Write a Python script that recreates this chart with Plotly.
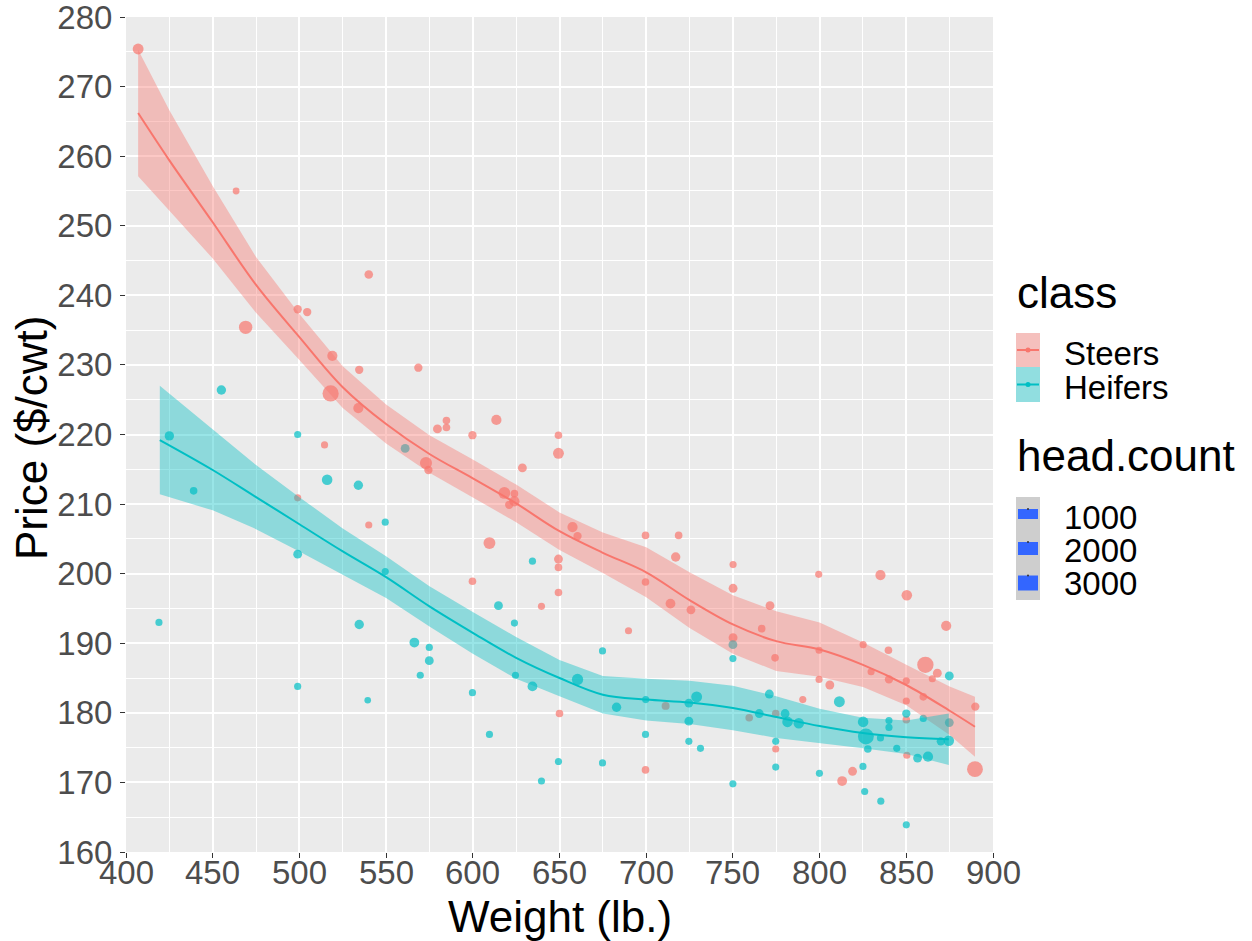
import plotly.graph_objects as go

# ---------------- data ----------------
steer_weight = [407, 463.5, 469, 540, 499, 504.5, 519, 534.5, 568.6, 518, 534, 514.5, 499, 540,
                584.8, 579.6, 584.8, 613.6, 599.8, 649.4, 649.4, 573, 574.4, 628.6, 618.2, 624, 624, 621,
                657.5, 660.4, 699.6, 718.7, 717, 609.6, 649.4, 649.4, 599.8, 699.6, 649.4, 639.6, 714, 689.8,
                650, 699.6, 711.2, 750.1, 750.1, 799.5, 835.1, 850.3, 873, 725.8, 771.4, 766.6, 750.1, 774.3,
                825.1, 839.7, 799.7, 861, 867.9, 829.7, 840, 850, 865, 799.7, 805.9, 790.3, 850, 859.8, 889.8,
                759.4, 774.7, 850, 850.3, 774.7, 819, 813, 889.6]
steer_price = [275.4, 255, 235.4, 243, 238, 237.6, 231.3, 229.3, 229.6, 225.9, 223.8, 218.5, 210.9, 207,
               222, 220.8, 221, 222.1, 219.9, 219.9, 217.3, 215.9, 214.9, 215.2, 211.6, 211.5, 210.4, 209.9,
               206.7, 205.4, 205.5, 205.5, 202.4, 204.4, 202.1, 200.9, 198.9, 198.8, 197.3, 195.3, 195.7, 191.8,
               179.9, 171.8, 181, 201.3, 197.9, 199.9, 199.8, 196.9, 192.5, 194.8, 195.4, 192.1, 190.8, 187.9,
               189.8, 189, 189, 186.9, 185.7, 185.9, 184.8, 184.6, 184.9, 184.8, 184, 181.9, 181.7, 182.3, 180.9,
               179.3, 179.9, 179, 173.9, 174.8, 171.6, 170.2, 171.9]
steer_head = [900, 120, 1800, 350, 300, 300, 700, 300, 300, 3200, 700, 150, 150, 150,
              200, 400, 200, 700, 300, 200, 900, 1300, 300, 400, 1200, 200, 700, 300,
              700, 300, 200, 200, 500, 1200, 400, 200, 200, 200, 200, 150, 600, 150,
              200, 200, 250, 150, 400, 150, 700, 800, 700, 400, 400, 200, 400, 200,
              150, 200, 150, 3300, 400, 150, 300, 150, 150, 150, 400, 150, 150, 200, 300,
              200, 200, 200, 150, 150, 400, 600, 3000]

heifer_weight = [419, 425, 439, 455, 499, 499, 499, 516, 534, 549.5, 549.5, 561, 539.4, 534.5,
                 614.8, 624, 566.3, 574.9, 574.9, 569.7, 674.8, 624.6, 634.4, 660.4, 599.8, 682.9, 699.7,
                 609.6, 699.6, 649.4, 674.8, 639.6, 634.4, 750, 750, 811.4, 771, 729.1, 724.6, 724.6,
                 765.2, 780.1, 781.5, 788, 825.1, 826.7, 827.8, 840, 840, 850, 859.8, 874.8, 874.5,
                 869.9, 835.1, 844.5, 856.5, 862.5, 774.7, 731.3, 774.7, 799.9, 825, 750, 826, 835.3,
                 850, 724.6, 874.8]
heifer_price = [193, 219.8, 211.9, 226.4, 220, 202.8, 183.8, 213.5, 212.7, 207.4, 200.3, 218, 181.8, 192.7,
                195.4, 192.9, 190.1, 189.4, 187.5, 185.4, 188.9, 185.4, 183.8, 184.8, 182.9, 180.8, 181.9,
                176.9, 176.9, 173, 172.8, 170.2, 201.8, 189.8, 187.8, 181.6, 182.7, 182.3, 181.4, 178.8,
                179.9, 179.9, 178.7, 178.5, 178.7, 176.6, 174.8, 178.9, 177.9, 179.9, 179.2, 178.6, 176,
                175.9, 176.4, 174.9, 173.5, 173.7, 175.9, 174.9, 172.2, 171.3, 172.3, 169.8, 168.7, 167.3,
                163.9, 175.9, 185.3]
heifer_head = [150, 500, 200, 500, 150, 400, 150, 800, 500, 150, 150, 400, 100, 500,
               400, 150, 600, 150, 400, 150, 150, 150, 600, 1000, 150, 500, 150,
               150, 150, 150, 150, 150, 150, 400, 150, 900, 400, 900, 400, 400,
               400, 400, 800, 800, 800, 3000, 200, 150, 150, 300, 150, 400, 800,
               300, 150, 150, 400, 700, 150, 150, 150, 150, 150, 150, 150, 150,
               150, 150, 400]

# smooth fits (loess)
steer_fit_x = [407, 425, 450, 475, 500, 525, 550, 575, 600, 625, 650, 675, 700, 725, 750, 775, 800, 825, 850, 875, 889.6]
steer_fit = [266.2, 259.4, 250.5, 241.5, 234.0, 226.8, 221.5, 217.2, 213.7, 210.1, 206.1, 203.0, 200.2, 196.2,
             192.7, 190.3, 189.1, 186.9, 184.0, 180.3, 178.0]
steer_upper = [275.3, 266.6, 255.7, 245.5, 237.3, 229.8, 224.3, 219.9, 216.4, 212.8, 208.8, 205.9, 203.8, 200.2,
               196.9, 194.6, 193.0, 190.1, 186.9, 183.8, 182.3]
steer_lower = [257.1, 252.2, 245.3, 237.5, 230.7, 223.8, 218.7, 214.5, 211.0, 207.4, 203.4, 200.1, 196.6, 192.2,
               188.5, 186.0, 185.2, 183.7, 181.1, 176.8, 173.7]

heifer_fit_x = [419.5, 450, 475, 500, 525, 550, 575, 600, 625, 650, 675, 700, 725, 750, 775, 800, 825, 850, 874.5]
heifer_fit = [219.2, 214.9, 211.0, 207.1, 203.2, 199.5, 195.3, 191.5, 187.9, 185.0, 182.6, 181.9, 181.5, 180.7,
              179.4, 178.1, 177.1, 176.5, 176.2]
heifer_upper = [227.0, 220.7, 215.6, 211.0, 206.5, 202.5, 198.2, 194.5, 190.9, 187.6, 185.3, 184.9, 184.6, 183.9,
                182.4, 180.6, 179.3, 178.9, 179.9]
heifer_lower = [211.4, 209.1, 206.4, 203.2, 199.9, 196.5, 192.4, 188.5, 184.9, 182.4, 179.9, 178.9, 178.4, 177.5,
                176.4, 175.6, 174.9, 174.1, 172.5]

classes = ["Steers", "Heifers"]
size_breaks = ["1000", "2000", "3000"]
x_ticks = list(range(400, 901, 50))
y_ticks = list(range(160, 281, 10))

# ---------------- styling ----------------
RED = "#F8766D"
TEAL = "#00BFC4"
FONT = "Liberation Sans, Arial, sans-serif"
W, H = 1252, 941
L, R, T, B = 126, 993, 17, 852  # panel pixel box


def diam(hc):
    lo, hi = 50.0, 3500.0
    return 5.2 + 11.5 * ((hc - lo) / (hi - lo)) ** 0.5


fig = go.Figure()

fig.add_trace(go.Scatter(x=steer_weight, y=steer_price, mode="markers",
                         marker=dict(color=RED, size=[diam(h) for h in steer_head], line=dict(width=0)),
                         showlegend=False, hoverinfo="skip"))
fig.add_trace(go.Scatter(x=heifer_weight, y=heifer_price, mode="markers",
                         marker=dict(color=TEAL, size=[diam(h) for h in heifer_head], line=dict(width=0)),
                         showlegend=False, hoverinfo="skip"))

for fx, fit, up, lo, col, rgba in [
    (steer_fit_x, steer_fit, steer_upper, steer_lower, RED, "rgba(248,118,109,0.4)"),
    (heifer_fit_x, heifer_fit, heifer_upper, heifer_lower, TEAL, "rgba(0,191,196,0.4)"),
]:
    fig.add_trace(go.Scatter(x=fx + fx[::-1], y=up + lo[::-1], fill="toself", fillcolor=rgba,
                             line=dict(width=0), mode="lines", showlegend=False,
                             hoverinfo="skip"))
    fig.add_trace(go.Scatter(x=fx, y=fit, mode="lines", line=dict(color=col, width=2, shape="spline"),
                             showlegend=False, hoverinfo="skip"))

pw, ph = R - L, B - T


def px(xp):
    return (xp - L) / pw


def py(yp):
    return (B - yp) / ph


shapes = []
annotations = []


def rect(x0, y0, x1, y1, color):
    shapes.append(dict(type="rect", xref="paper", yref="paper", x0=px(x0), x1=px(x1), y0=py(y1), y1=py(y0),
                       fillcolor=color, line=dict(width=0), layer="above"))


def text(x, y, s, size, color="black", xanchor="left", angle=0):
    annotations.append(dict(xref="paper", yref="paper", x=px(x), y=py(y), text=s, showarrow=False,
                            xanchor=xanchor, yanchor="middle", textangle=angle,
                            font=dict(family=FONT, size=size, color=color)))


# x tick labels placed on the x scale
for v in x_ticks:
    annotations.append(dict(xref="x", yref="paper", x=v, y=py(872), text=str(v), showarrow=False,
                            xanchor="center", yanchor="middle",
                            font=dict(family=FONT, size=33, color="#4D4D4D")))

# class legend
text(1015, 292, "class", 44)
key_cols = [("#F5C0BD", RED), ("#91DEE0", TEAL)]
rows = [(333, 367), (367, 402)]
for (bg, col), (y0, y1), lab in zip(key_cols, rows, classes):
    rect(1016, y0, 1040, y1, bg)
    yc = (y0 + y1) / 2
    shapes.append(dict(type="line", xref="paper", yref="paper", x0=px(1017), x1=px(1039), y0=py(yc), y1=py(yc),
                       line=dict(color=col, width=2), layer="above"))
    shapes.append(dict(type="circle", xref="paper", yref="paper", x0=px(1025.5), x1=px(1030.5),
                       y0=py(yc + 2.5), y1=py(yc - 2.5), fillcolor=col, line=dict(width=0), layer="above"))
    text(1062, yc + 3, lab, 33)

# head.count legend
text(1015, 455, "head.count", 44)
rect(1016, 497, 1040, 600, "#CECECE")
blue = [(509, 519), (542, 555), (575.5, 590.5)]
for (y0, y1), lab, yc in zip(blue, size_breaks, [517, 550, 583.5]):
    rect(1018, y0, 1038, y1, "#3366FF")
    shapes.append(dict(type="circle", xref="paper", yref="paper", x0=px(1027), x1=px(1029),
                       y0=py(y0 + 1), y1=py(y0 - 1), fillcolor="#333333", line=dict(width=0), layer="above"))
    text(1062, yc, lab, 33)

# axis titles
text(560, 916, "Weight (lb.)", 44, xanchor="center")
text(31, 438, "Price ($/cwt)", 44, xanchor="center", angle=-90)

axis_common = dict(showline=False, zeroline=False, ticks="outside", ticklen=5, tickwidth=1, tickcolor="#333333",
                   tickfont=dict(family=FONT, size=33, color="#4D4D4D"), showgrid=True, gridcolor="white",
                   gridwidth=1.6, ticklabeloverflow="allow")

fig.update_layout(
    width=W, height=H,
    margin=dict(l=L, r=W - R, t=T, b=H - B, pad=0, autoexpand=False),
    paper_bgcolor="white", plot_bgcolor="#EBEBEB",
    font=dict(family=FONT),
    showlegend=False,
    xaxis=dict(range=[400, 900], tickvals=x_ticks, showticklabels=False,
               minor=dict(dtick=25, tick0=425, showgrid=True, gridcolor="white", gridwidth=0.8, ticks=""),
               automargin=False, **axis_common),
    yaxis=dict(range=[160, 280], tickvals=y_ticks, ticktext=[str(v) for v in y_ticks],
               minor=dict(dtick=5, tick0=165, showgrid=True, gridcolor="white", gridwidth=0.8, ticks=""),
               ticklabelstandoff=1, automargin=False, **axis_common),
    shapes=shapes,
    annotations=annotations,
)

fig.write_html("out.html", config={"displayModeBar": False},
               post_script="document.body.style.margin='0';document.body.style.overflow='hidden';")
